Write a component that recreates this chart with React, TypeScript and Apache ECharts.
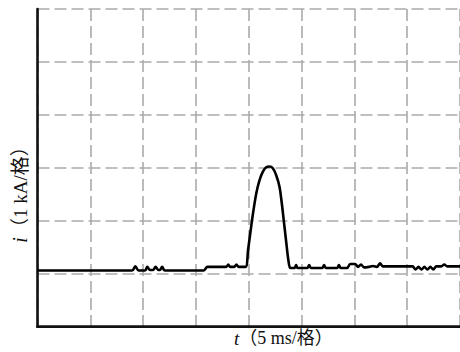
import React, { useEffect, useRef } from "react";
import * as echarts from "echarts";

// time in divisions (5 ms / div), current in divisions (1 kA / div)
const timeDiv: number[] = [
  0, 1.79, 1.854, 1.914, 2.036, 2.079, 2.13, 2.186, 2.236, 2.289, 2.317, 2.36, 2.41,
  3.143, 3.218, 3.574, 3.612, 3.649, 3.724, 3.767, 3.809, 3.94,
  3.987, 4.037, 4.081, 4.143, 4.206, 4.268, 4.33, 4.394, 4.456, 4.518, 4.582, 4.625,
  4.662, 4.705, 4.75, 4.788,
  4.869, 4.897, 4.925, 5.113, 5.144, 5.178, 5.394, 5.426, 5.46, 5.675, 5.707, 5.741,
  5.863, 5.92, 6.013, 6.07, 6.126, 6.182, 6.276, 6.351, 6.426, 6.488, 6.538,
  7.101, 7.158, 7.214, 7.27, 7.326, 7.383, 7.439, 7.495, 7.552, 7.645, 7.702, 7.758, 8.0,
];
const currentDiv: number[] = [
  1.06, 1.06, 1.14, 1.06, 1.06, 1.13, 1.07, 1.07, 1.13, 1.07, 1.07, 1.13, 1.06,
  1.06, 1.13, 1.13, 1.175, 1.13, 1.13, 1.175, 1.13, 1.13,
  1.449, 1.826, 2.142, 2.519, 2.771, 2.927, 3.01, 3.025, 2.991, 2.865, 2.644, 2.336,
  2.015, 1.637, 1.26, 1.109,
  1.11, 1.165, 1.11, 1.11, 1.165, 1.11, 1.11, 1.165, 1.11, 1.11, 1.165, 1.11,
  1.11, 1.184, 1.184, 1.13, 1.175, 1.12, 1.13, 1.147, 1.13, 1.197, 1.14,
  1.14, 1.08, 1.13, 1.08, 1.13, 1.08, 1.13, 1.08, 1.14, 1.14, 1.175, 1.14, 1.14,
];
const xMin = 0;
const xMax = 8;
const yMin = 0;
const yMax = 6;
const xLabel = "（5 ms/格）";
const xVar = "t";
const yLabel = "（1 kA/格）";
const yVar = "i";

export default function App() {
  const ref = useRef<HTMLDivElement>(null);
  useEffect(() => {
    if (!ref.current) return;
    const chart = echarts.init(ref.current, null, { renderer: "svg" });
    const split = {
      show: true,
      lineStyle: { color: "#ababab", width: 1.6, type: [12, 5] as any },
    };
    const font = "'Liberation Serif', 'Noto Sans CJK SC', serif";
    chart.setOption({
      animation: false,
      backgroundColor: "#ffffff",
      grid: { left: 37.5, top: 9, width: 426.5, height: 317.7 },
      xAxis: [
        {
          type: "value",
          min: xMin,
          max: xMax,
          interval: 1,
          axisLine: { show: true, onZero: false, lineStyle: { color: "#111", width: 2.6 } },
          axisTick: { show: false },
          axisLabel: { show: false },
          splitLine: split,
        },
        {
          type: "value",
          position: "top",
          min: xMin,
          max: xMax,
          axisLine: { show: true, lineStyle: { color: "#111", width: 2.2 } },
          axisTick: { show: false },
          axisLabel: { show: false },
          splitLine: { show: false },
        },
      ],
      yAxis: {
        type: "value",
        min: yMin,
        max: yMax,
        interval: 1,
        axisLine: { show: true, onZero: false, lineStyle: { color: "#111", width: 2.6 } },
        axisTick: { show: false },
        axisLabel: { show: false },
        splitLine: split,
      },
      series: [
        {
          type: "line",
          data: timeDiv.map((t, k) => [t, currentDiv[k]]),
          showSymbol: false,
          smooth: 0.3,
          lineStyle: { color: "#000", width: 2.6 },
        },
      ],
      graphic: [
        {
          type: "text",
          x: 234,
          y: 338,
          style: {
            text: `{v|${xVar}}{n|${xLabel}}`,
            verticalAlign: "middle",
            align: "left",
            rich: {
              v: { fontFamily: font, fontStyle: "italic", fontSize: 19, fill: "#111" },
              n: { fontFamily: font, fontSize: 18, fill: "#111" },
            },
          },
        },
        {
          type: "text",
          x: 20,
          y: 190,
          rotation: Math.PI / 2,
          style: {
            text: `{v|${yVar}}{n|${yLabel}}`,
            verticalAlign: "middle",
            align: "center",
            rich: {
              v: { fontFamily: font, fontStyle: "italic", fontSize: 20, fill: "#111" },
              n: { fontFamily: font, fontSize: 19, fill: "#111" },
            },
          },
        },
      ],
    });
    return () => chart.dispose();
  }, []);
  return (
    <div
      ref={ref}
      style={{ position: "fixed", left: 0, top: 0, width: 460, height: 352, overflow: "hidden" }}
    />
  );
}
